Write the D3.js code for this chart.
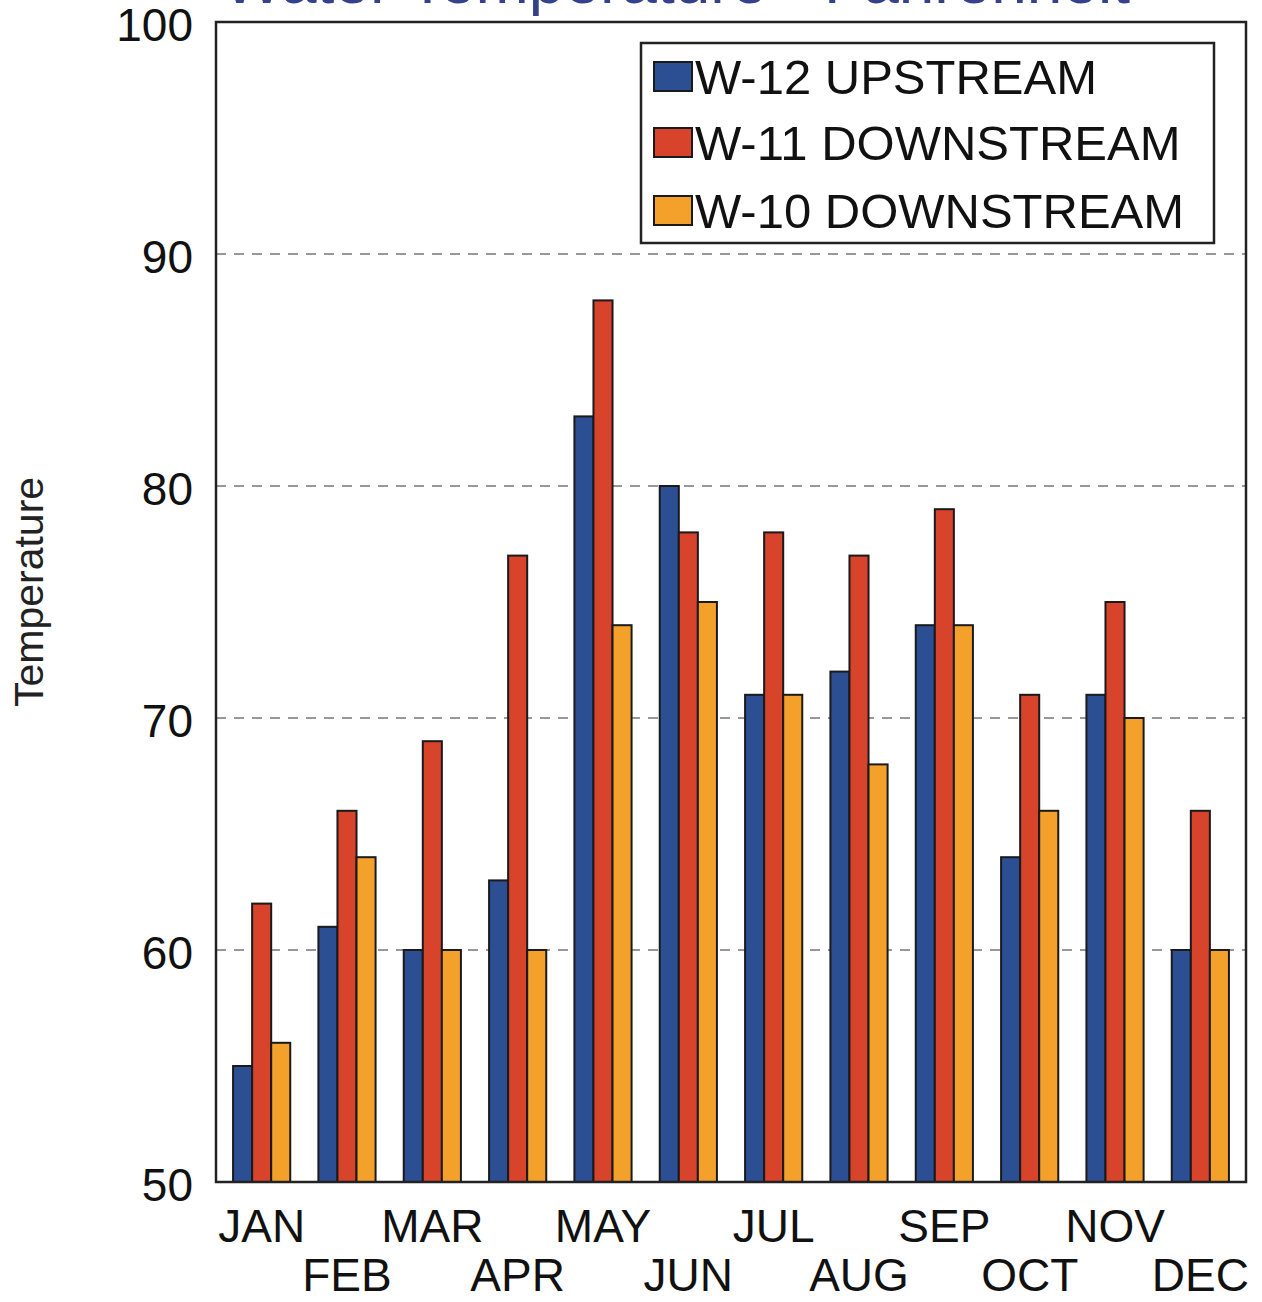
<!DOCTYPE html>
<html><head><meta charset="utf-8">
<script src="https://cdn.jsdelivr.net/npm/d3@7"></script>
<style>body{margin:0;background:#fff}svg{display:block}text{font-family:"Liberation Sans",Arial,sans-serif}</style>
</head><body>
<svg id="c" width="1262" height="1302"></svg>
<script>
const months = ["JAN","FEB","MAR","APR","MAY","JUN","JUL","AUG","SEP","OCT","NOV","DEC"];
const seriesNames = ["W-12 UPSTREAM","W-11 DOWNSTREAM","W-10 DOWNSTREAM"];
const w12 = [55,61,60,63,83,80,71,72,74,64,71,60];
const w11 = [62,66,69,77,88,78,78,77,79,71,75,66];
const w10 = [56,64,60,60,74,75,71,68,74,66,70,60];
const yTicks = [50,60,70,80,90,100];
const titleText = "Water Temperature - Fahrenheit";
const colors = ["#2b4f92","#d8432b","#f4a12c"];
const series = [w12,w11,w10];

const svg = d3.select("#c");
const L=216,R=1246,T=22,B=1182;
const x = d3.scaleBand().domain(months).range([L,R]).paddingInner(0.33).paddingOuter(0.2);
const xs = d3.scaleBand().domain(d3.range(3)).range([0,x.bandwidth()]);
const y = d3.scaleLinear().domain([50,100]).range([B,T]);

// title (cut off by the top edge, as in the reference)
svg.append("text").attr("x",1130).attr("y",3).attr("text-anchor","end")
  .attr("font-size",64).attr("fill","#33428a").text(titleText);

// grid
svg.append("g").selectAll("line").data(yTicks.filter(d=>d>50&&d<100)).join("line")
  .attr("x1",L).attr("x2",R).attr("y1",d=>y(d)).attr("y2",d=>y(d))
  .attr("stroke","#777").attr("stroke-width",1.3).attr("stroke-dasharray","10,8");

// bars
const g = svg.append("g");
months.forEach((m,i)=>{
  series.forEach((s,k)=>{
    g.append("rect").attr("x",x(m)+xs(k)).attr("y",y(s[i]))
     .attr("width",xs.bandwidth()).attr("height",y(50)-y(s[i]))
     .attr("fill",colors[k]).attr("stroke","#1a1a1a").attr("stroke-width",2);
  });
});

// frame
svg.append("rect").attr("x",L).attr("y",T).attr("width",R-L).attr("height",B-T)
  .attr("fill","none").attr("stroke","#222").attr("stroke-width",2.5);

// y labels
const ya = d3.axisLeft(y).tickValues(yTicks).tickSize(0).tickPadding(23);
const yg = svg.append("g").attr("transform",`translate(${L},0)`).call(ya);
yg.select(".domain").remove();
yg.selectAll("text").attr("font-size",46).attr("fill","#111").attr("dy","0.40em")
  .attr("font-family","Liberation Sans, Arial, sans-serif");

// x labels staggered
const xa = d3.axisBottom(x).tickSize(0).tickPadding(0);
const xg = svg.append("g").attr("transform",`translate(0,${B})`).call(xa);
xg.select(".domain").remove();
xg.selectAll("text").attr("font-size",46).attr("fill","#111").attr("font-family","Liberation Sans, Arial, sans-serif")
  .attr("dy",null).attr("y",(d,i)=> i%2===0 ? 60 : 109);

svg.append("text").attr("transform","translate(43,592) rotate(-90)").attr("text-anchor","middle")
  .attr("font-size",41).attr("fill","#222").text("Temperature");

// legend
const lg = svg.append("g");
lg.append("rect").attr("x",641).attr("y",43).attr("width",573).attr("height",200)
  .attr("fill","#fff").attr("stroke","#222").attr("stroke-width",2.5);
const rowY = [77,143,211];
seriesNames.forEach((n,k)=>{
  const cy = rowY[k];
  lg.append("rect").attr("x",654).attr("y",cy-15).attr("width",38).attr("height",29)
    .attr("fill",colors[k]).attr("stroke","#1a1a1a").attr("stroke-width",2);
  lg.append("text").attr("x",695).attr("y",cy+17).attr("font-size",49).attr("fill","#111").text(n);
});
</script>
</body></html>
